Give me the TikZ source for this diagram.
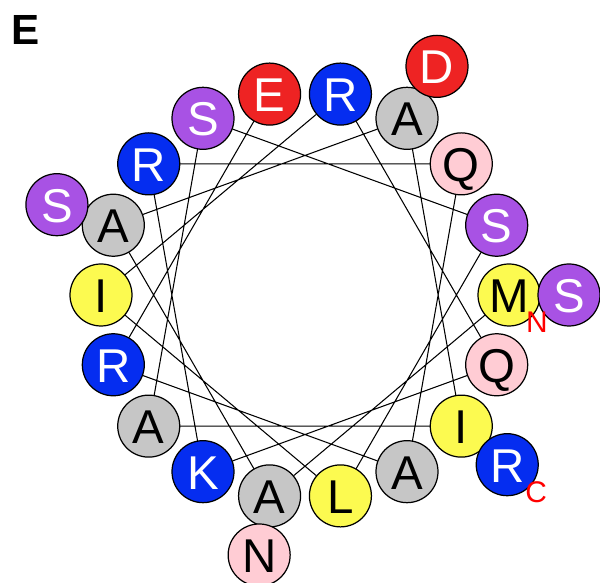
\documentclass[tikz,border=0pt]{standalone}
\usepackage{fontspec}
\setmainfont{Liberation Sans}
\usepackage{xcolor}
\definecolor{resblue}{RGB}{5,45,240}
\definecolor{resred}{RGB}{238,35,35}
\definecolor{respurple}{RGB}{168,82,228}
\definecolor{resyellow}{RGB}{252,250,80}
\definecolor{resgrey}{RGB}{198,198,198}
\definecolor{respink}{RGB}{255,204,212}

\begin{document}
\begin{tikzpicture}[line cap=round,
  res/.style={circle,draw=black,line width=0.7pt,minimum size=1.24cm,inner sep=0pt,
    text height=0.7cm,text depth=0pt,font=\fontsize{27}{27}\selectfont},
  blu/.style={res,fill=resblue,text=white},
  rd/.style={res,fill=resred,text=white},
  pur/.style={res,fill=respurple,text=white},
  ylw/.style={res,fill=resyellow},
  gry/.style={res,fill=resgrey},
  pnk/.style={res,fill=respink},
  term/.style={text=red,inner sep=0pt,font=\fontsize{17}{17}\selectfont}]
\useasboundingbox (0,0) rectangle (12,11.66);
\node[font=\bfseries\fontsize{24}{24}\selectfont] (panel) at (0.52,11.06) {E};
\begin{scope}[shift={(6.1,5.76)}]
% inner turn
\node[ylw] (r1) at (0:4.08) {M};
\node[gry] (r2) at (260:4.08) {A};
\node[gry] (r3) at (160:4.08) {A};
\node[gry] (r4) at (60:4.08) {A};
\node[ylw] (r5) at (320:4.08) {I};
\node[gry] (r6) at (220:4.08) {A};
\node[pur] (r7) at (120:4.08) {S};
\node[pur] (r8) at (20:4.08) {S};
\node[ylw] (r9) at (280:4.08) {L};
\node[ylw] (r10) at (180:4.08) {I};
\node[blu] (r11) at (80:4.08) {R};
\node[pnk] (r12) at (340:4.08) {Q};
\node[blu] (r13) at (240:4.08) {K};
\node[blu] (r14) at (140:4.08) {R};
\node[pnk] (r15) at (40:4.08) {Q};
\node[gry] (r16) at (300:4.08) {A};
\node[blu] (r17) at (200:4.08) {R};
\node[rd] (r18) at (100:4.08) {E};
% outer turn
\node[pur] (r19) at (0:5.28) {S};
\node[pnk] (r20) at (260:5.28) {N};
\node[pur] (r21) at (160:5.28) {S};
\node[rd] (r22) at (60:5.28) {D};
\node[blu] (r23) at (320:5.28) {R};
\end{scope}
\draw[line width=0.6pt] (r1) -- (r2) -- (r3) -- (r4) -- (r5) -- (r6) -- (r7) -- (r8) -- (r9)
  -- (r10) -- (r11) -- (r12) -- (r13) -- (r14) -- (r15) -- (r16) -- (r17) -- (r18);
\node[term] (nterm) at ([shift={(0.56,-0.54)}]r1.center) {N};
\node[term] (cterm) at ([shift={(0.58,-0.56)}]r23.center) {C};
\end{tikzpicture}
\end{document}
